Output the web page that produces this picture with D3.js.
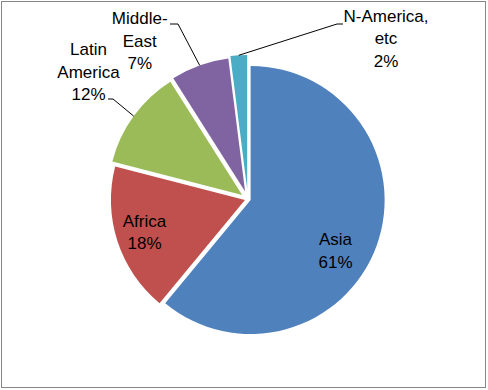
<!DOCTYPE html>
<html>
<head>
<meta charset="utf-8">
<script src="https://cdn.jsdelivr.net/npm/d3@7"></script>
<style>
  html, body { margin: 0; padding: 0; background: #fff; }
  svg { display: block; }
</style>
</head>
<body>
<svg id="chart" width="488" height="390"></svg>
<script>
// ---- data ----
const categories = ["Asia", "Africa", "Latin America", "Middle-East", "N-America, etc"];
const values = [61, 18, 12, 7, 2];
const labelLines = [["Asia"], ["Africa"], ["Latin", "America"], ["Middle-", "East"], ["N-America,", "etc"]];
const colors = ["#4F81BD", "#C0504D", "#9BBB59", "#8064A2", "#4BACC6"];

// ---- layout / style config ----
const W = 488, H = 390;
const cx = 247.8, cy = 199, R = 134;
const explode = [3, 3, 7, 8, 10];
const fontSize = 17, lineH = 22.5;
// first-baseline anchor of each label, relative to pie centre
const labelAnchor = [[87.7, 46], [-103.3, 27.7], [-159.3, -144], [-108.1, -175], [138.2, -177.3]];
// leader line elbow and end (relative to pie centre); null = no leader
const leader = [null, null, [[-134.8, -100], [-139.8, -100]], [[-69.8, -175], [-77.8, -175]], [[89.2, -175], [95.2, -175]]];

const svg = d3.select("#chart");
svg.append("rect").attr("x", 0).attr("y", 0).attr("width", W).attr("height", H).attr("fill", "#fff");
svg.append("rect").attr("x", 1.5).attr("y", 1.5).attr("width", 484).attr("height", 386)
  .attr("fill", "none").attr("stroke", "#868686").attr("stroke-width", 1);

const total = d3.sum(values);
const pie = d3.pie().sort(null).value(d => d).startAngle(0).endAngle(2 * Math.PI);
const arcs = pie(values);
const arc = d3.arc().innerRadius(0).outerRadius(R);

const g = svg.append("g").attr("transform", `translate(${cx},${cy})`);

arcs.forEach((a, i) => {
  const mid = (a.startAngle + a.endAngle) / 2;
  const dx = Math.sin(mid) * explode[i], dy = -Math.cos(mid) * explode[i];
  g.append("path")
    .attr("d", arc(a))
    .attr("transform", `translate(${dx},${dy})`)
    .attr("fill", colors[i]);
});

// leader lines
arcs.forEach((a, i) => {
  if (!leader[i]) return;
  const mid = (a.startAngle + a.endAngle) / 2;
  const ex = explode[i];
  const p0 = [Math.sin(mid) * (R + ex), -Math.cos(mid) * (R + ex)];
  const pts = [p0, leader[i][0], leader[i][1]];
  g.append("path")
    .attr("d", d3.line()(pts))
    .attr("fill", "none").attr("stroke", "#000").attr("stroke-width", 1);
});

// labels
arcs.forEach((a, i) => {
  const lines = labelLines[i].concat([Math.round(values[i] / total * 100) + "%"]);
  const t = g.append("text")
    .attr("font-family", "'Liberation Sans', Arial, sans-serif")
    .attr("font-size", fontSize)
    .attr("fill", "#000")
    .attr("text-anchor", "middle");
  lines.forEach((ln, k) => {
    t.append("tspan")
      .attr("x", labelAnchor[i][0])
      .attr("y", labelAnchor[i][1] + k * lineH)
      .text(ln);
  });
});
</script>
</body>
</html>
